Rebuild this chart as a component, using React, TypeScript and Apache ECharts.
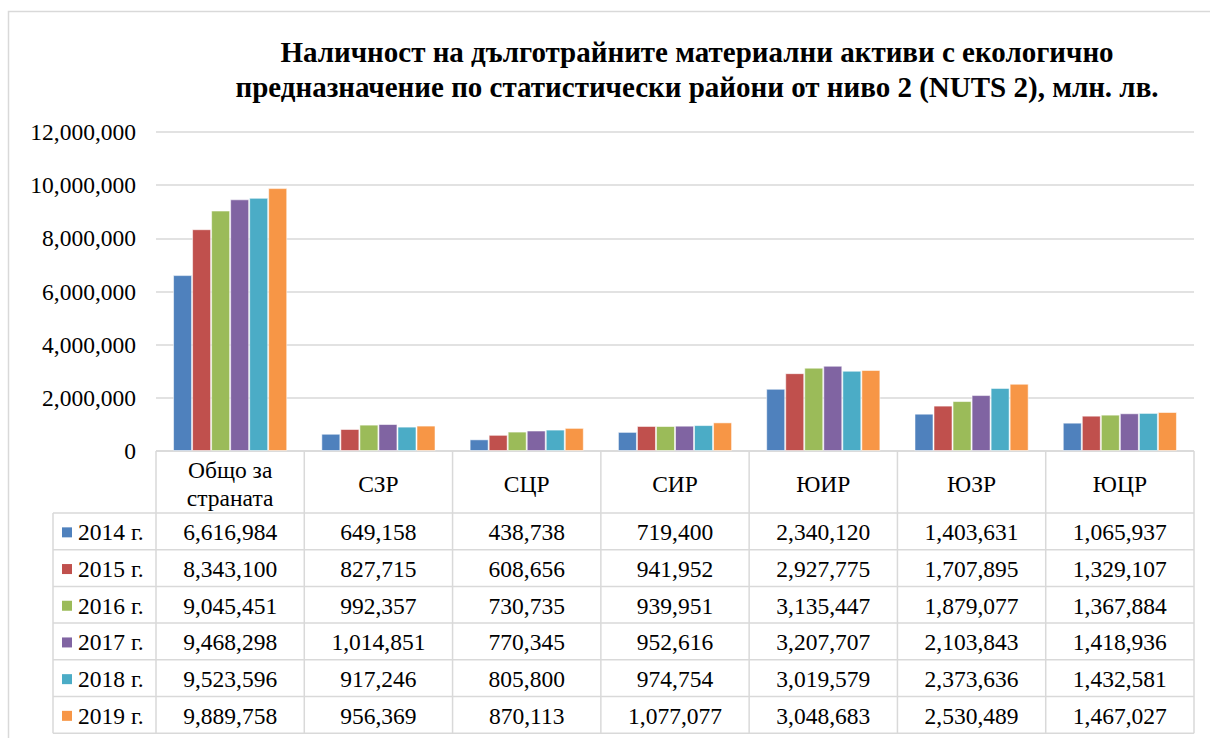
import React, { useEffect, useRef } from "react";
import * as echarts from "echarts";

const titleLines = [
  "Наличност на дълготрайните материални активи с екологично",
  "предназначение по статистически райони от ниво 2 (NUTS 2), млн. лв.",
];
const categories = ["Общо за\nстраната", "СЗР", "СЦР", "СИР", "ЮИР", "ЮЗР", "ЮЦР"];
const seriesNames = ["2014 г.", "2015 г.", "2016 г.", "2017 г.", "2018 г.", "2019 г."];
const v2014 = [6616984, 649158, 438738, 719400, 2340120, 1403631, 1065937];
const v2015 = [8343100, 827715, 608656, 941952, 2927775, 1707895, 1329107];
const v2016 = [9045451, 992357, 730735, 939951, 3135447, 1879077, 1367884];
const v2017 = [9468298, 1014851, 770345, 952616, 3207707, 2103843, 1418936];
const v2018 = [9523596, 917246, 805800, 974754, 3019579, 2373636, 1432581];
const v2019 = [9889758, 956369, 870113, 1077077, 3048683, 2530489, 1467027];
const seriesValues = [v2014, v2015, v2016, v2017, v2018, v2019];
const colors = ["#4F81BD", "#C0504D", "#9BBB59", "#8064A2", "#4BACC6", "#F79646"];
const yMin = 0;
const yMax = 12000000;
const yInterval = 2000000;

const FONT = "'Liberation Serif', 'DejaVu Serif', 'Times New Roman', serif";
const W = 1210;
const H = 738;
const GRID_L = 156;
const GRID_R = 1194;
const GRID_T = 132;
const GRID_B = 451;
const HEADER_B = 513;
const ROW_H = 36.7;
const TABLE_L = 53;
const LINE_C = "#d9d9d9";

const fmt = (v: number) => v.toLocaleString("en-US");

export default function App() {
  const ref = useRef<HTMLDivElement>(null);
  useEffect(() => {
    if (!ref.current) return;
    const chart = echarts.init(ref.current, undefined, { renderer: "svg" });
    const colW = (GRID_R - GRID_L) / categories.length;
    const tableBottom = HEADER_B + ROW_H * seriesNames.length;
    const graphics: any[] = [];
    const lineStyle = { stroke: LINE_C, lineWidth: 1.5 };
    const txt = (size: number, weight: string = "normal") => ({
      fontFamily: FONT,
      fontSize: size,
      fontWeight: weight,
      fill: "#000",
    });
    graphics.push({
      type: "rect",
      shape: { x: 8.5, y: 11.5, width: W + 10, height: H + 10 },
      style: { fill: "none", stroke: LINE_C, lineWidth: 1.5 },
      silent: true,
    });
    titleLines.forEach((t, i) => {
      graphics.push({
        type: "text",
        x: 697,
        y: 52 + i * 35,
        style: { text: t, ...txt(29, "bold"), textAlign: "center", textVerticalAlign: "middle" },
      });
    });
    graphics.push({ type: "line", shape: { x1: GRID_L, y1: GRID_B, x2: GRID_R, y2: GRID_B }, style: lineStyle });
    for (let r = 0; r <= seriesNames.length; r++) {
      const y = HEADER_B + r * ROW_H;
      graphics.push({ type: "line", shape: { x1: TABLE_L, y1: y, x2: GRID_R, y2: y }, style: lineStyle });
    }
    graphics.push({ type: "line", shape: { x1: TABLE_L, y1: HEADER_B, x2: TABLE_L, y2: tableBottom }, style: lineStyle });
    for (let c = 0; c <= categories.length; c++) {
      const x = GRID_L + c * colW;
      graphics.push({ type: "line", shape: { x1: x, y1: GRID_B, x2: x, y2: tableBottom }, style: lineStyle });
    }
    categories.forEach((cat, c) => {
      graphics.push({
        type: "text",
        x: GRID_L + (c + 0.5) * colW,
        y: (GRID_B + HEADER_B) / 2 + 2,
        style: { text: cat, ...txt(23.5), textAlign: "center", textVerticalAlign: "middle", lineHeight: 28 },
      });
    });
    seriesNames.forEach((name, r) => {
      const cy = HEADER_B + (r + 0.5) * ROW_H + 1;
      graphics.push({
        type: "rect",
        shape: { x: 62, y: cy - 5, width: 10, height: 10 },
        style: { fill: colors[r] },
      });
      graphics.push({
        type: "text",
        x: 78,
        y: cy,
        style: { text: name, ...txt(23.5), textAlign: "left", textVerticalAlign: "middle" },
      });
      seriesValues[r].forEach((v, c) => {
        graphics.push({
          type: "text",
          x: GRID_L + (c + 0.5) * colW,
          y: cy,
          style: { text: fmt(v), ...txt(23.5), textAlign: "center", textVerticalAlign: "middle" },
        });
      });
    });

    chart.setOption({
      animation: false,
      backgroundColor: "#fff",
      textStyle: { fontFamily: FONT },
      grid: { left: GRID_L, right: W - GRID_R, top: GRID_T, bottom: H - GRID_B, containLabel: false },
      xAxis: {
        type: "category",
        data: categories,
        axisLine: { show: false },
        axisTick: { show: false },
        axisLabel: { show: false },
      },
      yAxis: {
        type: "value",
        min: yMin,
        max: yMax,
        interval: yInterval,
        axisLine: { show: false },
        axisTick: { show: false },
        axisLabel: {
          formatter: (v: number) => fmt(v),
          fontFamily: FONT,
          fontSize: 23.5,
          color: "#000",
          margin: 20,
        },
        splitLine: { lineStyle: { color: LINE_C, width: 1.5 } },
      },
      series: seriesNames.map((name, i) => ({
        name,
        type: "bar",
        data: seriesValues[i],
        barGap: "0%",
        barCategoryGap: "23%",
        itemStyle: { color: colors[i], borderColor: "rgba(255,255,255,0.55)", borderWidth: 1 },
      })),
      graphic: graphics,
    });
    return () => chart.dispose();
  }, []);
  return <div ref={ref} style={{ position: "absolute", left: 0, top: 0, width: W, height: H }} />;
}
